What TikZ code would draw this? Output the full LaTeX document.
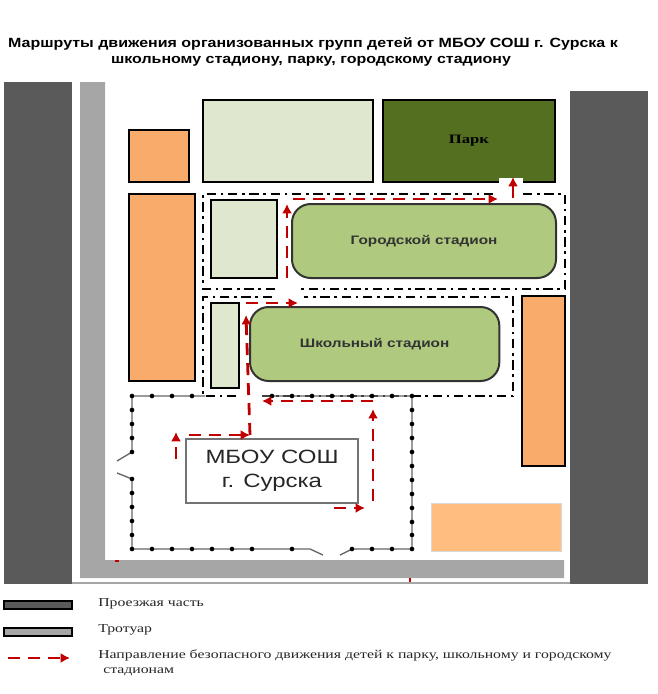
\documentclass[tikz,border=0pt]{standalone}
\usepackage{fontspec}
\setmainfont{Liberation Serif}
\newfontfamily\titlefont[FakeStretch=1.2]{Liberation Sans}
\newfontfamily\legendfont[FakeStretch=1.3]{Liberation Serif}
\newfontfamily\labelfont[FakeStretch=1.25]{Liberation Sans}
\usetikzlibrary{arrows.meta,positioning}
\definecolor{roadgray}{HTML}{5A5A5A}
\definecolor{walkgray}{HTML}{A6A6A6}
\definecolor{lotorange}{HTML}{F9AB6C}
\definecolor{lotpeach}{HTML}{FFBE7F}
\definecolor{lotgreen}{HTML}{DFE8CF}
\definecolor{parkgreen}{HTML}{536F1F}
\definecolor{fieldgreen}{HTML}{AFC97E}
\definecolor{routered}{HTML}{C00000}
\tikzset{
    lot/.style={draw, line width=1.5pt, anchor=north west, inner sep=0pt, outer sep=0pt},
    field/.style={draw=black!80, line width=1.5pt, anchor=north west, inner sep=0pt, outer sep=0pt, rounded corners=14pt, fill=fieldgreen, font=\labelfont\bfseries\fontsize{9.2}{11}\selectfont, text=black!80},
    school/.style={draw=black!55, line width=1.7pt, anchor=north west, inner sep=0pt, outer sep=0pt, fill=white, align=center, font=\labelfont\Large, text=black!85},
    zone/.style={line width=1.5pt, dash pattern=on 7pt off 3.5pt on 2pt off 3.5pt},
    route/.style={-{Latex[length=7pt, width=7.5pt]}, line width=2.1pt, routered, dash pattern=on 9pt off 6pt},
    fence/.style={line width=1pt, black!60},
    post/.style={circle, fill=black, inner sep=0pt, minimum size=3.5pt},
    swatch/.style={draw, line width=1.5pt, anchor=north west, inner sep=0pt, outer sep=0pt, minimum width=51pt},
    note/.style={anchor=west, inner sep=0pt, font=\legendfont\fontsize{9.1}{11}\selectfont, text=black!85}
}
\begin{document}
\begin{tikzpicture}[x=0.75pt, y=-0.75pt]
\useasboundingbox (0,0) rectangle (658,694);
% title
\node[font=\titlefont\bfseries\fontsize{10}{12}\selectfont, inner sep=0pt] (title1) at (313,44) {Маршруты движения организованных групп детей от МБОУ СОШ г. Сурска  к};
\node[font=\titlefont\bfseries\fontsize{10}{12}\selectfont, inner sep=0pt] (title2) at (311,61) {школьному стадиону, парку, городскому стадиону};
% roads and sidewalk
\fill[roadgray] (4,82) rectangle (72,584);
\fill[roadgray] (570,91) rectangle (648,584);
\fill[walkgray] (80,82) -- (105,82) -- (105,560) -- (564,560) -- (564,578) -- (80,578) -- cycle;
\draw[black!35, line width=1pt] (72,583) -- (570,583);
\draw[routered, line width=1pt] (410,578) -- (410,582);
\draw[routered, line width=1pt] (115,561) -- (119,561);
% lots
\node[lot, fill=lotorange, minimum width=45pt, minimum height=39pt] (lotA) at (129,130) {};
\node[lot, fill=lotorange, minimum width=49.5pt, minimum height=140pt] (lotB) at (129,194) {};
\node[lot, fill=lotgreen, minimum width=127.5pt, minimum height=61.5pt] (yard) at (203,100) {};
\node[lot, fill=parkgreen, minimum width=129pt, minimum height=61.5pt, font=\legendfont\bfseries\fontsize{9.6}{11}\selectfont] (park) at (383,100) {Парк};
\node[lot, fill=lotgreen, minimum width=49.5pt, minimum height=58.5pt] (yardB) at (211,200) {};
\node[lot, fill=lotgreen, minimum width=21pt, minimum height=64pt] (yardC) at (211,303) {};
\node[field, minimum width=198pt, minimum height=55.5pt] (city) at (292,204) {Городской стадион};
\node[field, minimum width=187pt, minimum height=55.5pt] (local) at (250,307) {Школьный стадион};
\node[lot, fill=lotorange, minimum width=32pt, minimum height=127.5pt] (lotC) at (522,296) {};
\node[lot, draw=black!15, line width=0.5pt, fill=lotpeach, minimum width=98pt, minimum height=36pt] (lotD) at (431,503) {};
\node[school, minimum width=129pt, minimum height=48pt] (mainb) at (186,439) {МБОУ СОШ\\г. Сурска};
\fill[white] (499,178) rectangle (523,186);
% zones
\draw[zone] (275,289) -- (203,289) -- (203,194) -- (497,194);
\draw[zone] (523,194) -- (565,194) -- (565,289) -- (300,289);
\draw[zone] (272,297) -- (203,297) -- (203,396) -- (240,396);
\draw[zone] (262,396) -- (513,396) -- (513,297) -- (304,297);
% fence
\draw[fence] (205,396) -- (132,396) -- (132,452) -- (117,461);
\draw[fence] (117,473) -- (132,479) -- (132,549) -- (310,549) -- (323,555);
\draw[fence] (340,555) -- (352,549) -- (412,549) -- (412,396) -- (262,396);
\foreach \x in {132,152,172,192,212,232,252,292,352,372,392,412}
    \node[post] (postB\x) at (\x,549) {};
\foreach \x in {152,172,192,272,292,312,332,352,372,392}
    \node[post] (postT\x) at (\x,396) {};
\foreach \y in {396,410,424,438,452,479,493,507,521,535}
    \node[post] (postL\y) at (132,\y) {};
\foreach \y in {396,410,424,438,452,466,480,494,508,522,535}
    \node[post] (postR\y) at (412,\y) {};
% routes
\coordinate (a0) at (176,459);
\coordinate (a1) at (176,432);
\coordinate (b0) at (189,435);
\coordinate (b1) at (250,435);
\coordinate (c0) at (250,435);
\coordinate (c1) at (246,315);
\coordinate (d0) at (246,303);
\coordinate (d1) at (298,303);
\coordinate (e0) at (287,278);
\coordinate (e1) at (287,204);
\coordinate (f0) at (293,199);
\coordinate (f1) at (498,199);
\coordinate (g0) at (513,198);
\coordinate (g1) at (513,177);
\coordinate (h0) at (334,508);
\coordinate (h1) at (365,508);
\coordinate (k0) at (373,501);
\coordinate (k1) at (373,409);
\coordinate (m0) at (373,401);
\coordinate (m1) at (262,401);
\draw[route] (a0) -- (a1);
\draw[route] (b0) -- (b1);
\draw[route] (c0) -- (c1);
\draw[route] (d0) -- (d1);
\draw[route] (e0) -- (e1);
\draw[route] (f0) -- (f1);
\draw[route] (g0) -- (g1);
\draw[route] (h0) -- (h1);
\draw[route] (k0) -- (k1);
\draw[route] (m0) -- (m1);
% legend
\node[swatch, fill=roadgray, minimum height=6pt] (keyroad) at (4,601) {};
\node[swatch, fill=walkgray, minimum height=6pt] (keywalk) at (4,628) {};
\coordinate (keya) at (8,658);
\coordinate (keyb) at (70,658);
\draw[route] (keya) -- (keyb);
\node[note] (noteroad) at (98,604) {Проезжая часть};
\node[note] (notewalk) at (98,630) {Тротуар};
\node[note] (noteroute) at (98,655) {Направление безопасного движения детей  к парку, школьному и городскому};
\node[note] (noteroute2) at (103,672) {стадионам};
\end{tikzpicture}
\end{document}
